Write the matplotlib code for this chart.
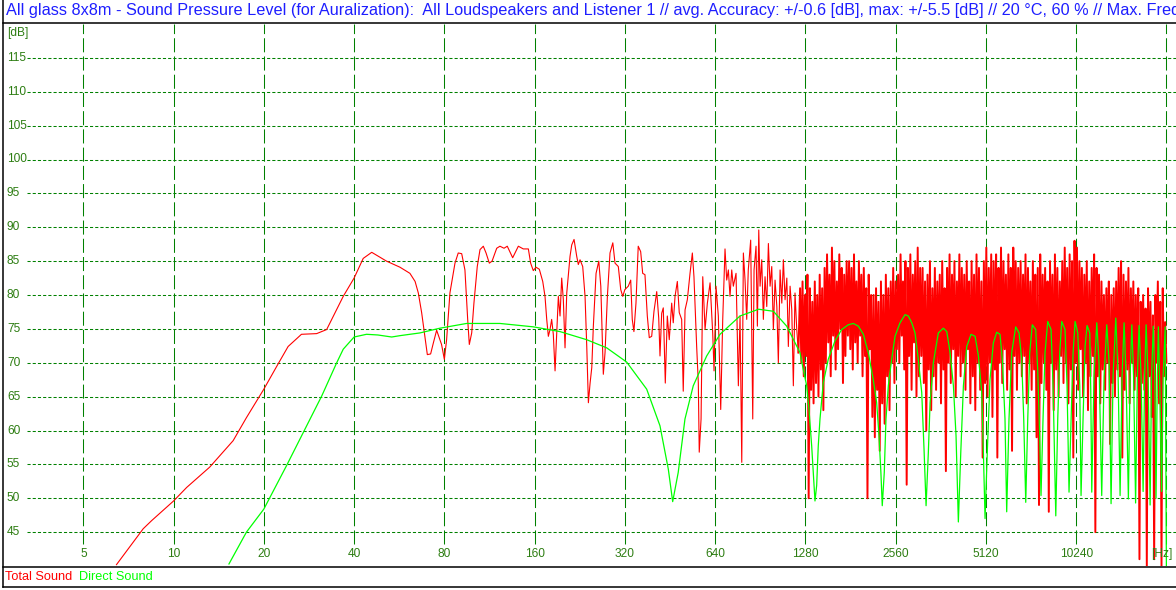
import numpy as np
import matplotlib
matplotlib.use("Agg")
import matplotlib.pyplot as plt
from matplotlib.lines import Line2D

plt.rcParams['font.family'] = ['Liberation Sans', 'DejaVu Sans']

# total sound, smooth + mid band (Hz, dB)
red_freq = [6.45, 7.92, 8.45, 10, 11.06, 13.2, 15.8, 17.5, 20, 22.1, 24.1, 26.7, 30.0, 32.4,
            36.8, 40, 42.9, 45.8, 51.3, 56.9, 61.4, 63.9, 65.5, 67.2, 68.9, 70.2, 72.0, 73.5,
            75.4, 78.3, 80.0, 81.4, 83.5, 86.8, 89.0, 91.4, 93.7, 95.7, 96.9, 98.7, 100.4, 103,
            105.2, 107.9, 110.2, 113, 115.4, 119.6, 122.6, 126.5, 129.7, 135.2, 141.2, 146.7,
            152.5, 155.2, 158.4, 161.7, 165.9, 170.3, 173.3, 175.6, 177.8, 180.1, 182.4, 184.7,
            187.2, 189.6, 192, 194.5, 197, 199.5, 202.1, 204.8, 210, 212.8, 216.6, 221.1, 223.8,
            226.8, 231.5, 235.7, 238.8, 241.8, 245, 248.2, 251.2, 256.5, 261.9, 266, 268.6,
            271.2, 274.8, 279.8, 285.5, 291.7, 296.7, 304.3, 310, 314.8, 320, 328.5, 334.7,
            338.7, 343, 348.5, 354.6, 361.3, 366.9, 373.4, 380.2, 386, 393.2, 400.2, 408.7, 415,
            419.1, 424.6, 429.8, 436.5, 443.3, 450, 458.5, 464, 470.4, 478.8, 485.9, 495, 501,
            508, 517, 527.8, 537.3, 544, 555.4, 562.5, 566.5, 574.5, 582, 592.4, 603, 615.7,
            628.2, 634.7, 644.4, 656, 668.1, 678.5, 690.5, 699.5, 708.5, 717.5, 727, 736, 751.5,
            765, 775, 785.3, 795, 805.3, 815.8, 825.6, 841, 854.4, 863, 876.3, 885.3, 894.8,
            903.8, 915.6, 926.9, 939, 951.5, 963.4, 976, 988.7, 1001, 1014, 1028, 1040, 1054,
            1068, 1081, 1095, 1110, 1123, 1138, 1153, 1167, 1182, 1198, 1213]
red_db = [40.2, 45.5, 46.7, 49.6, 51.6, 54.6, 58.5, 61.9, 66.1, 69.5, 72.4, 74.2, 74.3, 74.9,
          79.8, 82.5, 85.4, 86.3, 85.0, 84.1, 83.2, 82.0, 80.3, 77.4, 73.9, 71.2, 71.3, 72.9,
          74.8, 72.7, 70.5, 73.4, 80.3, 84.7, 86.2, 86.1, 83.7, 76.4, 72.7, 74.4, 78.8, 84.2,
          86.7, 87.2, 86.2, 84.7, 85.0, 86.9, 87.2, 86.9, 87.2, 85.5, 87.2, 86.8,
          86.8, 84.7, 83.6, 84.1, 83.8, 82.0, 79.8, 76.4, 73.9, 74.9, 76.4, 74.2,
          68.8, 74.4, 79.8, 76.9, 82.5, 79.3, 72.2, 80.3, 85.7, 87.4, 88.2, 85.7, 84.5,
          85.2, 84.2, 79.8, 72.4, 64.1, 67.0, 69.3, 75.4, 83.2, 85.0, 81.3, 74.9,
          68.3, 71.5, 79.8, 86.2, 87.7, 84.7, 84.2, 80.8, 79.8, 80.8, 81.3, 82.2,
          76.4, 74.6, 78.8, 87.2, 86.4, 83.2, 83.0, 76.9, 73.7, 73.9, 77.6, 80.5, 76.6,
          71.0, 77.3, 78.1, 67.0, 76.9, 73.4, 78.8, 75.9, 79.8, 82.0, 77.4, 76.4, 65.8,
          77.8, 79.3, 83.2, 86.2, 82.7, 72.4, 67.0, 56.8, 61.7, 82.7, 74.9, 78.8, 81.8,
          74.4, 68.8, 81.3, 76.9, 63.1, 76.4, 86.8, 82.2, 83.7, 79.8, 83.7, 81.3, 83.2,
          66.6, 76.9, 55.3, 86.2, 82.2, 76.4, 83.7, 88.1, 61.7, 83.7, 87.2, 75.4, 89.6,
          81.3, 85.2, 76.4, 82.7, 78.3, 87.6, 81.3, 84.2, 74.9, 82.2, 78.3, 70.0, 83.7,
          78.8, 85.2, 79.3, 82.5, 72.4, 81.3, 77.8, 66.6, 80.3, 74.9, 71.5]

# total sound, dense high band from 1229 Hz to 20480 Hz (successive peaks and dips)
red_hf_start, red_hf_stop = 1229, 20480
red_hf_db = [
    81, 70, 82, 68, 80, 71, 83, 50, 81, 66, 79, 64, 82, 67, 80, 65, 83, 69, 81, 63,
    84, 70, 86, 73, 83, 68, 87, 74, 85, 69, 82, 72, 86, 75, 84, 67, 83, 71, 85, 74,
    85, 72, 84, 69, 86, 73, 82, 70, 85, 74, 83, 68, 84, 71, 81, 50, 83, 72, 80, 62,
    80, 59, 81, 66, 79, 57, 82, 64, 80, 61, 83, 68, 81, 63, 82, 70, 84, 67, 82, 72,
    83, 70, 86, 74, 82, 69, 85, 52, 84, 71, 86, 66, 83, 73, 85, 65, 87, 68, 84, 71,
    84, 67, 82, 60, 83, 69, 85, 63, 81, 68, 84, 66, 82, 70, 83, 64, 85, 69, 81, 54,
    84, 70, 86, 67, 83, 72, 85, 65, 82, 71, 86, 68, 84, 70, 83, 66, 85, 72, 82, 64,
    85, 68, 83, 63, 86, 70, 84, 66, 82, 56, 85, 67, 87, 65, 84, 70, 86, 62, 85, 69,
    86, 56, 84, 70, 87, 67, 85, 72, 83, 66, 86, 69, 84, 57, 87, 71, 85, 66, 84, 70,
    85, 68, 83, 71, 86, 64, 84, 70, 82, 66, 85, 69, 83, 59, 84, 49, 86, 67, 83, 70,
    84, 66, 82, 48, 85, 70, 83, 63, 86, 69, 84, 65, 82, 71, 85, 67, 87, 70, 84, 64,
    86, 69, 85, 56, 88, 70, 87, 66, 85, 72, 84, 65, 83, 70, 85, 63, 82, 68, 84, 71,
    86, 45, 84, 68, 83, 64, 82, 69, 80, 66, 81, 70, 82, 58, 80, 67, 81, 65, 82, 69,
    84, 68, 85, 56, 83, 66, 82, 69, 84, 64, 81, 70, 82, 66, 80, 68, 81, 41, 79, 67,
    80, 66, 78, 40, 81, 68, 79, 62, 77, 41, 80, 70, 82, 64, 79, 40, 81, 68, 76, 70,
]

# direct sound (Hz, dB)
green_freq = [15.3, 17.5, 20, 23.8, 27.8, 31.2, 35.0, 36.8, 40, 44.0, 48.0, 53.4, 56.9, 66.3,
              77.3, 94.9, 122.6, 158.4, 194.4, 238.7, 278.3, 324.5, 378.4, 419, 446.7, 462,
              482, 507.7, 541, 599.8, 664.5, 774.6, 894, 1001, 1109, 1228, 1259.5, 1292.8,
              1316, 1343.5, 1360, 1378, 1396, 1413, 1432, 1468, 1525.6, 1606, 1691, 1779,
              1849, 1923, 1998, 2075, 2156, 2213, 2253, 2286, 2310, 2346, 2377, 2420, 2483,
              2548, 2648, 2752, 2822, 2897, 2971, 3047, 3128, 3184, 3234, 3291, 3335, 3420,
              3553, 3692, 3791, 3889, 3989, 4071, 4144, 4222, 4308, 4421, 4568, 4713, 4834,
              4959, 5022, 5087, 5175, 5284, 5420, 5562, 5706, 5808, 5929, 6007, 6114, 6243,
              6438, 6604, 6741, 6846, 6953, 7061, 7170, 7312, 7505, 7622, 7740, 7818, 7940,
              8063, 8233, 8445, 8576, 8757, 8890, 9027, 9166, 9402, 9548, 9695, 9850, 10003,
              10158, 10367, 10527, 10632, 10797, 10965, 11135, 11367, 11455, 11544, 11745,
              11998, 12206, 12462, 12690, 12953, 13190, 13389, 13596, 13886, 14133, 14349,
              14571, 14797, 15026, 15293, 15496, 15703, 15917, 16165, 16387, 16599, 16862,
              17124, 17328, 17524, 17796, 18071, 18272, 18515, 18726, 18911, 19095, 19253,
              19478, 19734, 19966, 20293, 20480]
green_db = [40.3, 45.0, 48.4, 54.8, 60.7, 65.1, 70.0, 72.0, 73.8, 74.2, 74.1, 73.8, 74.0, 74.4,
            75.1, 75.8, 75.8, 75.3, 74.6, 73.4, 72.2, 70.1, 66.1, 60.7, 54.3, 49.5,
            53.8, 61.7, 66.6, 71.0, 74.2, 76.9, 77.9, 77.6, 75.4, 71.5, 69.0, 66.6,
            63.1, 57.7, 53.8, 49.6, 51.9, 57.7, 61.7, 67.0, 70.5, 73.2, 74.9, 75.6,
            75.8, 75.4, 74.2, 71.5, 67.5, 64.1, 59.2, 53.8, 48.9, 53.8, 61.7, 66.6, 70.5,
            73.9, 75.9, 77.1, 76.9, 75.9, 74.4, 70.5, 65.6, 57.2, 48.9, 56.8, 64.1, 70.0,
            74.4, 75.1, 74.6, 71.5, 66.6, 59.2, 46.5, 56.8, 66.6, 72.4, 74.2, 73.9, 71.0,
            65.6, 56.8, 47.0, 56.8, 67.5, 72.9, 74.5, 74.2, 70.5, 61.7, 48.0, 61.7, 71.5,
            75.3, 74.4, 70.5, 61.7, 49.4, 61.7, 71.5, 75.6, 74.9, 69.0, 59.2, 50.4, 61.7,
            71.5, 76.1, 74.9, 66.6, 47.4, 61.7, 71.5, 76.1, 74.9, 66.6, 50.9, 61.7, 71.5,
            76.1, 74.4, 66.6, 50.4, 61.7, 72.4, 75.5, 74.4, 66.0, 50.9, 68.0,
            75.9, 70.0, 50.4, 68.0, 75.6, 70.0, 49.2, 68.0, 76.6, 68.0, 50.4,
            68.0, 75.9, 68.0, 49.9, 68.0, 75.6, 68.0, 49.3, 68.0, 75.5, 68.0,
            51.0, 68.0, 75.6, 68.0, 49.0, 68.0, 75.4, 68.0, 50.0, 68.0, 75.3,
            66.0, 51.0, 68.0, 75.3, 39.0]

x_ticks = [5, 10, 20, 40, 80, 160, 320, 640, 1280, 2560, 5120, 10240]
x_tick_labels = ['5', '10', '20', '40', '80', '160', '320', '640', '1280', '2560', '5120', '10240']
y_ticks = [45, 50, 55, 60, 65, 70, 75, 80, 85, 90, 95, 100, 105, 110, 115]

title = ("All glass 8x8m - Sound Pressure Level (for Auralization):  All Loudspeakers and "
         "Listener 1 // avg. Accuracy: +/-0.6 [dB], max: +/-5.5 [dB] // 20 \u00b0C, 60 % // "
         "Max. Frequency: 20480 [Hz]")

W, H = 1176, 590
grid_c = '#008000'
lab_c = '#2d7d12'

fig = plt.figure(figsize=(W / 100, H / 100), dpi=100)
ax = fig.add_axes([5 / W, (H - 566) / H, (W - 5) / W, 542 / H])
ax.set_xscale('log', base=2)
ax.set_xlim(2.74, 22045)
ax.set_ylim(40, 120)
ax.set_axis_off()

# grid
for y in y_ticks:
    ax.axhline(y, xmin=22 / 1171, xmax=1, color=grid_c, lw=0.75, ls=(0, (3, 2)))
for f in x_ticks + [20480]:
    ax.plot([f, f], [43.3, 120], color=grid_c, lw=0.75, ls=(0, (13.5, 4)))

# tick labels
for f, lab in zip(x_ticks, x_tick_labels):
    ax.text(f, 41.8, lab, ha='center', va='center', fontsize=8.6, color=lab_c)
ax.annotate('[Hz]', (20480, 41.8), xytext=(-3.5, 0), textcoords='offset points',
            ha='center', va='center', fontsize=8.6, color=lab_c)
ylab_tr = ax.get_yaxis_transform()
for y in y_ticks:
    ax.text(0.0017, y, str(y), transform=ylab_tr, ha='left', va='center', fontsize=8.6, color=lab_c)
ax.text(0.0017, 118.6, '[dB]', transform=ylab_tr, ha='left', va='center', fontsize=8.6, color=lab_c)

# curves
red_hf_freq = np.geomspace(red_hf_start, red_hf_stop, len(red_hf_db))
ax.plot(red_freq, red_db, color='#ff0000', lw=0.8)
ax.plot(np.concatenate([red_freq[-1:], red_hf_freq]), np.concatenate([red_db[-1:], red_hf_db]),
        color='#ff0000', lw=1.4)
ax.plot(green_freq, green_db, color='#00ff00', lw=0.9)

# title (runs past the right edge, as in the original window) and legend
fig.text(6 / W, 1 - 11 / H, title, color='#1e1eff', fontsize=11.7, ha='left', va='center')
fig.text(5 / W, 1 - 577 / H, 'Total Sound', color='#ff0000', fontsize=9.2, ha='left', va='center')
fig.text(79 / W, 1 - 577 / H, 'Direct Sound', color='#00ff00', fontsize=9.2, ha='left', va='center')

# frame lines
def hline(ypx):
    fig.add_artist(Line2D([3 / W, 1], [1 - ypx / H, 1 - ypx / H], color='black', lw=1.1,
                          transform=fig.transFigure))

hline(23)
hline(566.5)
hline(587)
fig.add_artist(Line2D([3 / W, 3 / W], [1 - 587 / H, 1], color='black', lw=1.1,
                      transform=fig.transFigure))

fig.savefig('out.png', dpi=100, facecolor='white')
